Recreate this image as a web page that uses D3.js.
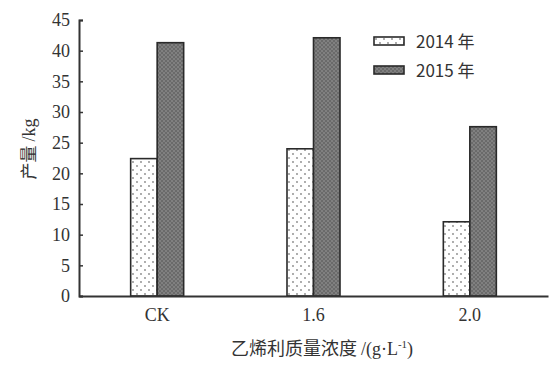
<!DOCTYPE html>
<html>
<head>
<meta charset="utf-8">
<script src="https://cdn.jsdelivr.net/npm/d3@7"></script>
<style>
  body { margin: 0; background: #fff; }
  svg { display: block; }
</style>
</head>
<body>
<div id="chart"></div>
<script>
// data
const categories = ["CK", "1.6", "2.0"];
const seriesNames = ["2014 年", "2015 年"];
const values2014 = [22.4, 24.0, 12.1];
const values2015 = [41.3, 42.1, 27.6];
const yTicks = [0, 5, 10, 15, 20, 25, 30, 35, 40, 45];

const W = 552, H = 365;
const margin = { top: 20, right: 4, bottom: 69, left: 79 };
const width = W - margin.left - margin.right;
const height = H - margin.top - margin.bottom;

const svg = d3.select("#chart").append("svg")
  .attr("width", W).attr("height", H);

// patterns for the two series
const defs = svg.append("defs");
const p1 = defs.append("pattern").attr("id", "dots2014")
  .attr("patternUnits", "userSpaceOnUse").attr("width", 8).attr("height", 8);
p1.append("rect").attr("width", 8).attr("height", 8).attr("fill", "#fff");
p1.append("circle").attr("cx", 2).attr("cy", 2).attr("r", 0.9).attr("fill", "#888");
p1.append("circle").attr("cx", 6).attr("cy", 6).attr("r", 0.9).attr("fill", "#888");

const p2 = defs.append("pattern").attr("id", "dots2015")
  .attr("patternUnits", "userSpaceOnUse").attr("width", 4).attr("height", 4);
p2.append("rect").attr("width", 4).attr("height", 4).attr("fill", "#6a6a6a");
p2.append("circle").attr("cx", 1).attr("cy", 1).attr("r", 0.7).attr("fill", "#a8a8a8");
p2.append("circle").attr("cx", 3).attr("cy", 3).attr("r", 0.7).attr("fill", "#a8a8a8");

const g = svg.append("g")
  .attr("transform", "translate(" + margin.left + "," + margin.top + ")");

// scales
const xScale = d3.scaleBand().domain(categories).range([0, width]).padding(0);
const yScale = d3.scaleLinear().domain([0, 45]).range([height, 0]);
const barW = 26.5;

const rows = categories.map((c, i) => ({ cat: c, v: [values2014[i], values2015[i]] }));
const fills = ["url(#dots2014)", "url(#dots2015)"];

// bars
rows.forEach(r => {
  const cx = xScale(r.cat) + xScale.bandwidth() / 2;
  r.v.forEach((v, j) => {
    g.append("rect")
      .attr("x", cx - barW + j * barW)
      .attr("y", yScale(v))
      .attr("width", barW)
      .attr("height", yScale(0) - yScale(v))
      .attr("fill", fills[j])
      .attr("stroke", "#2a2a2a")
      .attr("stroke-width", 1.6);
  });
});

// y axis
const yAxis = g.append("g")
  .call(d3.axisLeft(yScale).tickValues(yTicks).tickSize(-4).tickPadding(9));
yAxis.select(".domain").attr("stroke", "#333").attr("stroke-width", 2);
yAxis.selectAll(".tick line").attr("stroke", "#333").attr("stroke-width", 1.5);
yAxis.selectAll("text")
  .style("font-family", '"Liberation Serif", serif')
  .style("font-size", "18px")
  .attr("fill", "#333");

// x axis
const xAxis = g.append("g")
  .attr("transform", "translate(0," + height + ")")
  .call(d3.axisBottom(xScale).tickSize(0).tickPadding(12));
xAxis.select(".domain").attr("stroke", "#333").attr("stroke-width", 2);
xAxis.selectAll("text")
  .style("font-family", '"Liberation Serif", serif')
  .style("font-size", "18px")
  .attr("fill", "#333");

// axis titles
const yt = svg.append("text")
  .attr("transform", "translate(35,149) rotate(-90)")
  .style("text-anchor", "middle")
  .style("font-size", "17px")
  .attr("fill", "#333");
yt.append("tspan").style("font-family", '"Noto Sans CJK SC", sans-serif').text("产量 ");
yt.append("tspan").style("font-family", '"Liberation Serif", serif').style("font-size", "18px").text("/kg");

const xt = svg.append("text")
  .attr("x", 322).attr("y", 355)
  .style("text-anchor", "middle")
  .style("font-size", "18px")
  .attr("fill", "#333");
xt.append("tspan").style("font-family", '"Noto Sans CJK SC", sans-serif').text("乙烯利质量浓度 ");
xt.append("tspan").style("font-family", '"Liberation Serif", serif').text("/(g·L");
xt.append("tspan").attr("dy", -7).style("font-family", '"Liberation Serif", serif')
  .style("font-size", "11px").text("-1");
xt.append("tspan").attr("dy", 7).style("font-family", '"Liberation Serif", serif').text(")");

// legend
const legend = svg.append("g").attr("transform", "translate(374,37)");
seriesNames.forEach((name, i) => {
  const row = legend.append("g").attr("transform", "translate(0," + i * 29 + ")");
  row.append("rect")
    .attr("width", 30).attr("height", 8)
    .attr("fill", fills[i])
    .attr("stroke", "#2a2a2a").attr("stroke-width", 1.6);
  row.append("text")
    .attr("x", 42).attr("y", 11)
    .style("font-family", '"Noto Sans CJK SC", "DejaVu Sans", sans-serif')
    .style("font-size", "17px")
    .attr("fill", "#333")
    .text(name);
});
</script>
</body>
</html>
